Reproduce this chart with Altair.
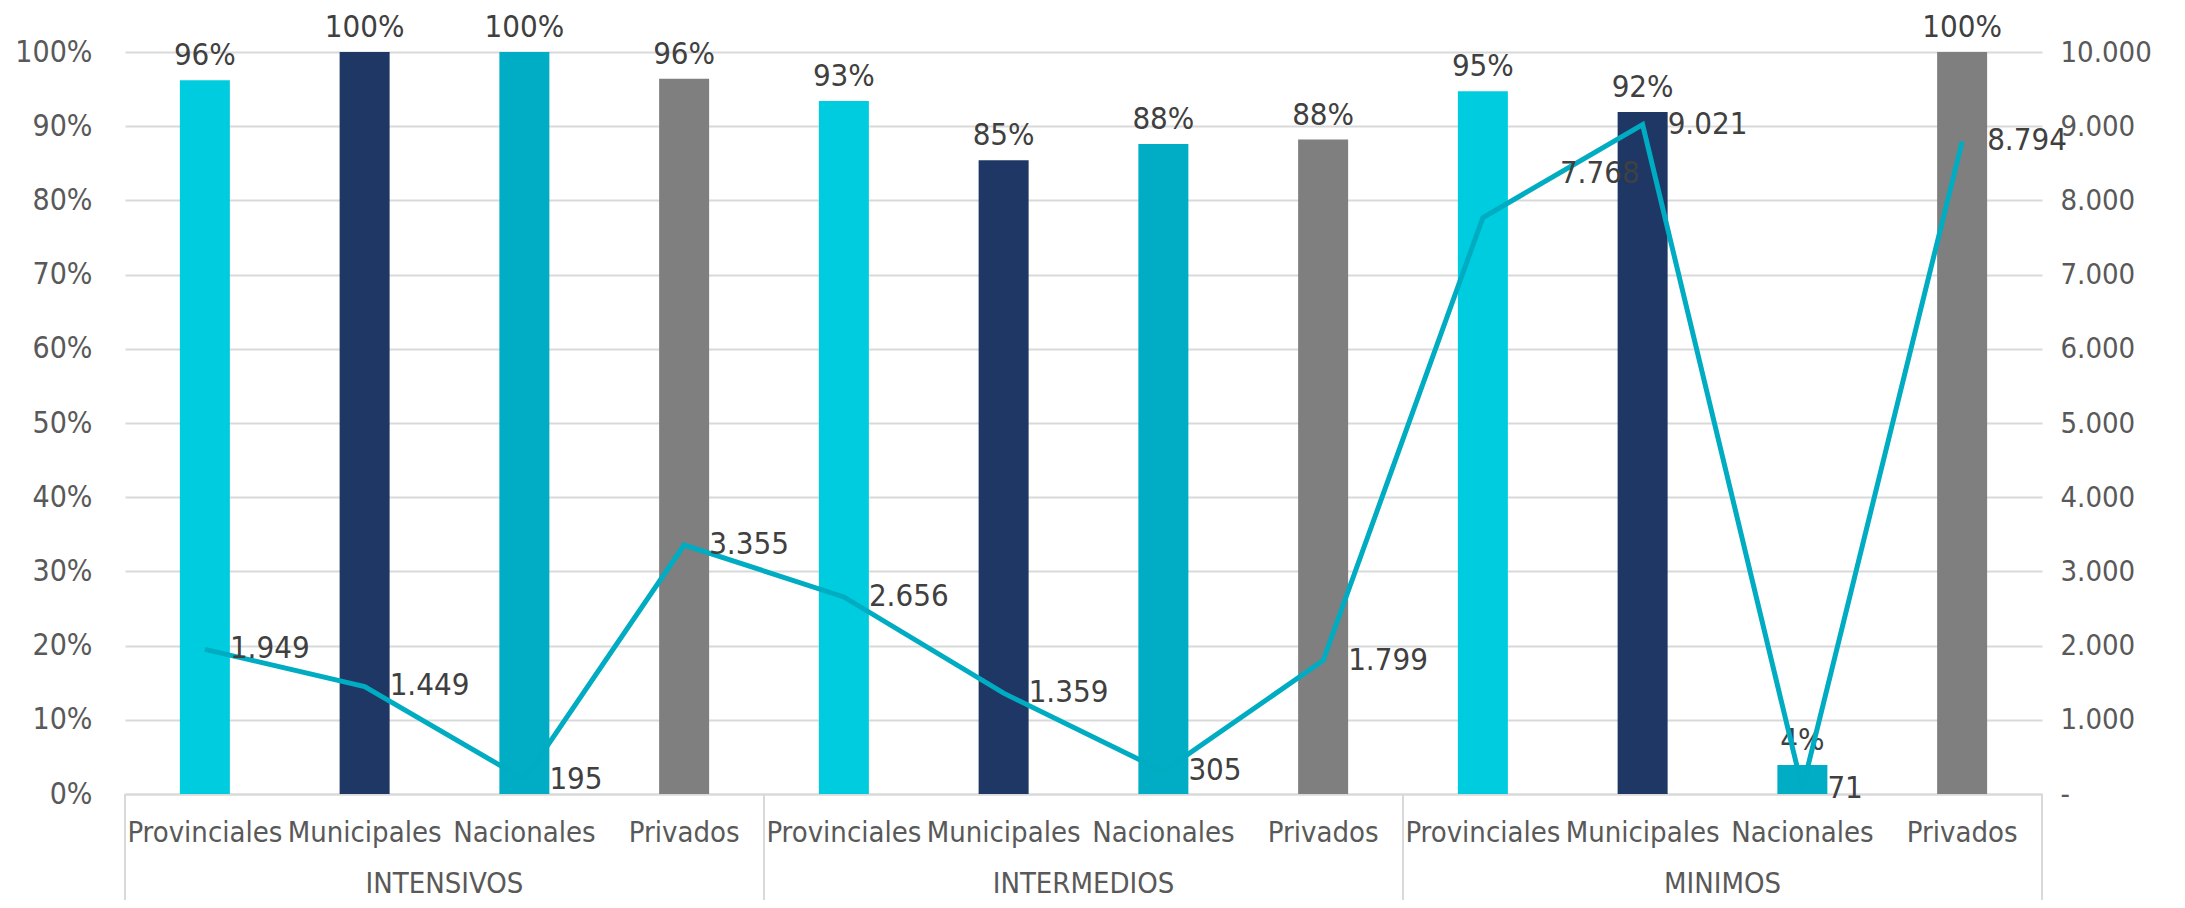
import altair as alt
import pandas as pd

# ---- data ----
groups = ["INTENSIVOS"] * 4 + ["INTERMEDIOS"] * 4 + ["MINIMOS"] * 4
categories = ["Provinciales", "Municipales", "Nacionales", "Privados"] * 3
pct_values = [0.962, 1.0, 1.0, 0.964, 0.934, 0.854, 0.876, 0.882, 0.947, 0.919, 0.039, 1.0]
count_values = [1949, 1449, 195, 3355, 2656, 1359, 305, 1799, 7768, 9021, 71, 8794]
group_names = ["INTENSIVOS", "INTERMEDIOS", "MINIMOS"]
cat_names = ["Provinciales", "Municipales", "Nacionales", "Privados"]
cat_colors = ["#00CCE0", "#1E3764", "#00ADC4", "#7F7F7F"]
pct_ticks = [0, 0.1, 0.2, 0.3, 0.4, 0.5, 0.6, 0.7, 0.8, 0.9, 1.0]
count_ticks = [0, 1000, 2000, 3000, 4000, 5000, 6000, 7000, 8000, 9000, 10000]

FONT = "DejaVu Sans Condensed, Liberation Sans Narrow, DejaVu Sans, sans-serif"
FS = 29
FS_DATA = 31
LABEL_COLOR = "#595959"
TEXT_COLOR = "#404040"
GRID = "#D9D9D9"
LINE_COLOR = "#00ACC1"

W, H = 1917, 742

keys = [f"{g}|{c}" for g, c in zip(groups, categories)]
df = pd.DataFrame({
    "key": keys,
    "group": groups,
    "cat": categories,
    "pct": pct_values,
    "cnt": count_values,
    "pct_label": [f"{round(p * 100)}%" for p in pct_values],
    "cnt_label": [f"{n:,}".replace(",", ".") for n in count_values],
})

xscale = alt.Scale(domain=keys, paddingInner=0, paddingOuter=0)
x_axis = alt.Axis(
    title=None, labelExpr="split(datum.value, '|')[1]", labelAngle=0,
    ticks=False, domainColor=GRID, domainWidth=2, labelFont=FONT,
    labelFontSize=FS, labelColor=LABEL_COLOR, labelPadding=24,
)
X = alt.X("key:N", scale=xscale, axis=x_axis)

Y_pct = alt.Y(
    "pct:Q",
    scale=alt.Scale(domain=[0, 1]),
    axis=alt.Axis(
        title=None, format=".0%", values=pct_ticks, grid=True, gridColor=GRID,
        gridWidth=2, domain=False, ticks=False, labelFont=FONT, labelFontSize=30,
        labelColor=LABEL_COLOR, labelPadding=33,
    ),
)
Y_cnt = alt.Y(
    "cnt:Q",
    scale=alt.Scale(domain=[0, 10000]),
    axis=alt.Axis(
        title=None, orient="right", values=count_ticks, grid=False, domain=False,
        ticks=False, labelFont=FONT, labelFontSize=FS, labelColor=LABEL_COLOR,
        labelPadding=18,
        labelExpr="datum.value == 0 ? '-' : replace(format(datum.value, ','), ',', '.')",
    ),
)

base = alt.Chart(df)

bars = base.mark_bar(size=50).encode(
    x=X,
    y=Y_pct,
    color=alt.Color("cat:N", scale=alt.Scale(domain=cat_names, range=cat_colors), legend=None),
)
bar_labels = base.mark_text(
    font=FONT, fontSize=FS_DATA, color=TEXT_COLOR, baseline="alphabetic", dy=-15
).encode(x=X, y=Y_pct, text="pct_label:N")

left = alt.layer(bars, bar_labels)

line = base.mark_line(color=LINE_COLOR, strokeWidth=5).encode(
    x=X, y=Y_cnt, order=alt.Order("idx:Q")
).transform_window(idx="row_number()")
line_labels = base.transform_filter(
    "datum.key != 'MINIMOS|Provinciales'"
).mark_text(
    font=FONT, fontSize=31, color=TEXT_COLOR, align="left", baseline="middle", dx=25
).encode(x=X, y=Y_cnt, text="cnt_label:N")
moved_label = base.transform_filter(
    "datum.key == 'MINIMOS|Provinciales'"
).mark_text(
    font=FONT, fontSize=31, color=TEXT_COLOR, align="left", baseline="middle", dx=77, dy=-44
).encode(x=X, y=Y_cnt, text="cnt_label:N")

right = alt.layer(line, line_labels, moved_label)

gdf = pd.DataFrame({"key": [f"{g}|Municipales" for g in group_names], "group": group_names})
group_labels = alt.Chart(gdf).mark_text(
    font=FONT, fontSize=FS, color=LABEL_COLOR, baseline="middle"
).encode(
    x=alt.X("key:N", scale=xscale, axis=x_axis, bandPosition=1),
    y=alt.value(H + 90),
    text="group:N",
)

sep_left = pd.DataFrame({"key": [f"{g}|Provinciales" for g in group_names]})
sep_right = pd.DataFrame({"key": [f"{group_names[-1]}|Privados"]})
rules_l = alt.Chart(sep_left).mark_rule(color=GRID, strokeWidth=2).encode(
    x=alt.X("key:N", scale=xscale, axis=x_axis, bandPosition=0),
    y=alt.value(H), y2=alt.value(H + 106),
)
rules_r = alt.Chart(sep_right).mark_rule(color=GRID, strokeWidth=2).encode(
    x=alt.X("key:N", scale=xscale, axis=x_axis, bandPosition=1),
    y=alt.value(H), y2=alt.value(H + 106),
)

chart = alt.layer(left, right, group_labels, rules_l, rules_r).resolve_scale(
    y="independent"
).properties(
    width=W, height=H,
    padding={"left": 117, "top": 44, "right": 135, "bottom": 106},
    autosize=alt.AutoSizeParams(type="none"),
).configure_view(stroke=None)

chart.save("out.html", embed_options={"renderer": "svg", "actions": False})
